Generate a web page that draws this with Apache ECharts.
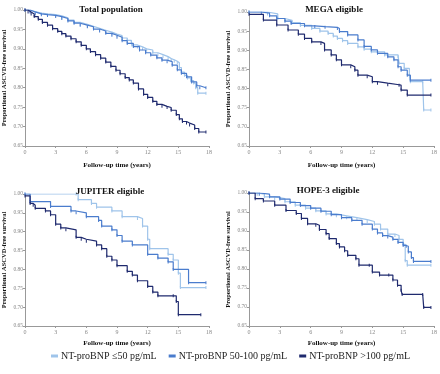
<!DOCTYPE html>
<html>
<head>
<meta charset="utf-8">
<script src="https://cdn.jsdelivr.net/npm/echarts@6/dist/echarts.min.js"></script>
<style>
  html, body { margin: 0; padding: 0; background: #fff; }
  #chart { width: 440px; height: 374px; }
</style>
</head>
<body>
<div id="chart"></div>
<script>
// group names (legend) and colours
const groups = ['NT-proBNP \u226450 pg/mL', 'NT-proBNP 50-100 pg/mL', 'NT-proBNP >100 pg/mL']
const colors = ['#9fc4ea', '#4a7ccd', '#1f2a6e']

const panelTitles = ['Total population', 'MEGA eligible', 'JUPITER eligible', 'HOPE-3 eligible']
const yTicks = [0.65, 0.70, 0.75, 0.80, 0.85, 0.90, 0.95, 1.00]
const xTicks = [0, 3, 6, 9, 12, 15, 18]

// Kaplan-Meier steps: [years, survival]
const totalLow = [[0,1],[0.5,0.996],[1.0,0.992],[1.6,0.99],[2.2,0.988],[3.0,0.985],[3.6,0.98],[4.2,0.974],[4.8,0.968],[5.4,0.963],[6.1,0.958],[6.7,0.953],[7.3,0.948],[7.9,0.943],[8.5,0.938],[9.0,0.934],[9.5,0.928],[10.0,0.922],[10.4,0.918],[10.45,0.91],[11.0,0.905],[11.5,0.9],[11.9,0.897],[12.5,0.89],[13.0,0.885],[13.5,0.88],[14.0,0.875],[14.3,0.872],[14.6,0.868],[14.9,0.864],[15.1,0.852],[15.3,0.84],[15.6,0.832],[15.9,0.825],[16.2,0.818],[16.5,0.812],[16.7,0.8],[16.9,0.786],[17.7,0.786]]
const totalMid = [[0,1],[0.5,0.995],[1.0,0.99],[1.6,0.988],[2.2,0.986],[3.0,0.983],[3.6,0.978],[4.2,0.972],[4.8,0.966],[5.4,0.961],[6.1,0.957],[6.7,0.951],[7.3,0.946],[7.9,0.94],[8.5,0.935],[9.0,0.93],[9.5,0.921],[10.0,0.914],[10.6,0.906],[11.2,0.897],[11.8,0.89],[12.3,0.884],[12.9,0.877],[13.4,0.871],[13.9,0.867],[14.4,0.858],[14.9,0.846],[15.3,0.837],[15.8,0.828],[16.3,0.815],[16.8,0.805],[17.1,0.8],[17.7,0.8]]
const totalHigh = [[0,1],[0.3,0.995],[0.6,0.99],[0.9,0.983],[1.3,0.976],[1.7,0.968],[2.2,0.961],[2.7,0.952],[3.2,0.945],[3.6,0.939],[4.0,0.933],[4.5,0.926],[5.0,0.918],[5.5,0.909],[6.0,0.9],[6.4,0.893],[6.9,0.885],[7.4,0.876],[7.9,0.866],[8.4,0.855],[8.9,0.845],[9.3,0.836],[9.8,0.826],[10.2,0.82],[10.6,0.812],[11.1,0.797],[11.6,0.783],[12.0,0.775],[12.5,0.765],[12.9,0.757],[13.4,0.752],[13.9,0.749],[14.3,0.742],[14.8,0.731],[15.1,0.72],[15.4,0.713],[15.8,0.709],[16.1,0.704],[16.6,0.695],[17.0,0.686],[17.7,0.686]]

const megaLow = [[0,1],[1.8,0.995],[2.8,0.983],[3.5,0.978],[4.2,0.972],[5.0,0.965],[6.1,0.957],[6.9,0.95],[7.7,0.944],[8.2,0.937],[8.6,0.931],[9.1,0.925],[9.6,0.918],[10.6,0.909],[11.2,0.903],[11.9,0.896],[13.2,0.888],[14.5,0.883],[14.6,0.866],[15.1,0.853],[15.6,0.835],[15.7,0.818],[16.9,0.818],[17.0,0.744],[17.7,0.744]]
const megaMid = [[0,1],[1.2,0.997],[2.0,0.99],[2.7,0.983],[3.5,0.976],[4.1,0.97],[5.4,0.964],[6.4,0.962],[7.4,0.96],[8.6,0.957],[8.8,0.949],[9.6,0.94],[10.6,0.927],[11.2,0.91],[11.9,0.901],[12.5,0.892],[13.5,0.883],[14.1,0.875],[14.5,0.857],[14.8,0.848],[15.4,0.835],[15.7,0.822],[17.7,0.822]]
const megaHigh = [[0,0.994],[1.4,0.979],[2.7,0.966],[3.8,0.953],[4.8,0.942],[5.4,0.931],[6.1,0.922],[7.0,0.918],[7.35,0.901],[8.0,0.888],[8.5,0.875],[9.0,0.862],[9.9,0.857],[10.3,0.848],[10.6,0.835],[11.5,0.831],[12.0,0.818],[12.5,0.814],[13.5,0.81],[14.6,0.809],[14.8,0.796],[15.4,0.783],[17.7,0.783]]

const jupLow = [[0,1],[5,1],[5.2,0.985],[6.5,0.975],[7,0.965],[8.5,0.955],[9.5,0.94],[11,0.935],[11.5,0.915],[12,0.88],[12.2,0.855],[14,0.84],[14.5,0.825],[15,0.79],[15.2,0.752],[17.7,0.752]]
const jupMid = [[0,1],[0.5,0.98],[2.5,0.967],[4.5,0.955],[5,0.95],[6,0.94],[7.2,0.93],[7.5,0.915],[8.5,0.905],[9,0.89],[9.5,0.875],[10.5,0.865],[12,0.84],[13,0.83],[14,0.82],[14.5,0.8],[16,0.765],[17.7,0.765]]
const jupHigh = [[0,0.995],[0.5,0.975],[0.8,0.97],[1,0.962],[2,0.955],[2.5,0.945],[3,0.92],[3.5,0.91],[4,0.905],[5,0.885],[5.5,0.88],[6,0.875],[7,0.865],[7.5,0.855],[8,0.835],[8.5,0.825],[9,0.81],[10,0.795],[10.5,0.785],[11,0.77],[12,0.755],[12.5,0.74],[13,0.73],[14.5,0.73],[14.8,0.715],[15,0.68],[17.2,0.68]]

const hopeLow = [[0,1],[0.8,0.997],[1.5,0.99],[2.5,0.985],[3.5,0.977],[4.5,0.968],[5.5,0.96],[6.5,0.953],[7.5,0.945],[8.5,0.94],[9.5,0.935],[10.5,0.93],[11.5,0.925],[12.2,0.918],[12.8,0.905],[13.5,0.892],[14.2,0.888],[14.6,0.878],[15,0.865],[15.2,0.822],[15.4,0.81],[17.7,0.81]]
const hopeMid = [[0,1],[1,0.997],[2,0.99],[3,0.984],[4,0.975],[5,0.967],[6,0.96],[7,0.952],[8,0.943],[9,0.935],[10,0.928],[11,0.918],[12,0.905],[12.5,0.895],[13,0.888],[13.5,0.884],[14,0.878],[14.5,0.87],[15,0.862],[15.3,0.86],[15.5,0.845],[15.8,0.83],[16,0.82],[17.7,0.82]]
const hopeHigh = [[0,1],[0.6,0.985],[1.4,0.979],[2.5,0.968],[3.6,0.954],[4.6,0.946],[5.1,0.933],[5.7,0.919],[6.5,0.915],[6.85,0.904],[7.5,0.893],[7.8,0.88],[8.5,0.867],[8.8,0.858],[9.3,0.848],[9.6,0.836],[10.4,0.827],[10.7,0.81],[11.7,0.81],[12.0,0.792],[12.7,0.784],[13.6,0.784],[14.0,0.771],[14.45,0.757],[14.8,0.744],[14.9,0.733],[16.9,0.733],[17.0,0.699],[17.7,0.699]]

const panelData = [
    [totalLow, totalMid, totalHigh],
    [megaLow, megaMid, megaHigh],
    [jupLow, jupMid, jupHigh],
    [hopeLow, hopeMid, hopeHigh]
]

let myChart = echarts.init(document.getElementById('chart'))

const serif = 'Liberation Serif'
const grids = [
    { left: 24, top: 10, width: 185, height: 136 },
    { left: 249, top: 12, width: 186, height: 134 },
    { left: 24, top: 194, width: 185, height: 132 },
    { left: 249, top: 193, width: 186, height: 133 }
]
const titlePos = [[106, 0], [329, 0], [105, 182], [323, 181]]

let xAxis = [], yAxis = [], series = [], title = []
grids.forEach((g, i) => {
    title.push({
        text: panelTitles[i], left: titlePos[i][0], top: titlePos[i][1], textAlign: 'center',
        textStyle: { fontFamily: serif, fontSize: 9, fontWeight: 'bold', color: '#111' }
    })
    xAxis.push({
        gridIndex: i, type: 'value', min: xTicks[0], max: xTicks[xTicks.length - 1], interval: 3,
        name: 'Follow-up time (years)', nameLocation: 'middle', nameGap: i < 2 ? 16 : 14,
        nameTextStyle: { fontFamily: serif, fontSize: 7, fontWeight: 'bold', color: '#111' },
        axisLine: { lineStyle: { color: '#999', width: 1 } },
        axisTick: { length: 2, lineStyle: { color: '#999' } },
        axisLabel: { fontFamily: serif, fontSize: 6, color: '#888', margin: 3 },
        splitLine: { show: false }
    })
    yAxis.push({
        gridIndex: i, type: 'value', min: yTicks[0], max: yTicks[yTicks.length - 1], interval: 0.05,
        name: 'Proportional ASCVD-free survival', nameLocation: 'middle', nameGap: 17,
        nameTextStyle: { fontFamily: serif, fontSize: 6.5, fontWeight: 'bold', color: '#111' },
        axisLine: { show: true, lineStyle: { color: '#999', width: 1 } },
        axisTick: { show: true, length: 2, lineStyle: { color: '#999' } },
        axisLabel: { fontFamily: serif, fontSize: 5.5, color: '#888', margin: 2,
            formatter: v => v.toFixed(2) },
        splitLine: { show: false }
    })
    panelData[i].forEach((d, k) => {
        series.push({
            name: groups[k], type: 'line', step: 'end', xAxisIndex: i, yAxisIndex: i,
            data: d, symbol: 'rect', symbolSize: [1, 3], showSymbol: true,
            color: colors[k], lineStyle: { width: 1.2, color: colors[k] },
            itemStyle: { color: colors[k] }, animation: false, z: 2 + k
        })
    })
})

let option = {
    backgroundColor: '#fff',
    title: title,
    legend: {
        data: groups, bottom: 8, left: 46, itemWidth: 7, itemHeight: 3, itemGap: 12,
        icon: 'rect',
        textStyle: { fontFamily: serif, fontSize: 10, color: '#222', padding: [0, 0, 0, -2] }
    },
    grid: grids,
    xAxis: xAxis,
    yAxis: yAxis,
    series: series
}

myChart.setOption(option)
</script>
</body>
</html>
